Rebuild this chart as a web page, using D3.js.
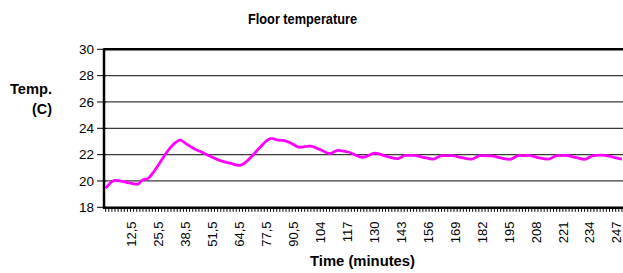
<!DOCTYPE html>
<meta charset="utf-8">
<html>
<head>
  <script src="https://d3js.org/d3.v7.min.js"></script>
  <style>
    body { margin: 0; background: #fff; }
    svg { display: block; }
  </style>
</head>
<body>
  <svg></svg>
  <script type="text/javascript">
    // readings (minutes, degrees C)
    var times = [0, 4.5, 8.5, 11.5, 15.5, 17.5, 20.5, 22.5, 26, 31, 33.5, 36, 39, 42, 45.5, 50.5, 55, 60, 64.5, 67, 70.5, 74.5, 78.5, 80,
      83, 85.5, 89, 93.5, 98.5, 103.5, 108, 112, 117, 124, 130, 135.5, 141, 144.5, 148.5, 153, 158, 162, 167.5, 171, 176.5, 180.5,
      186, 190, 195, 199, 204, 208, 213.5, 217.5, 221.5, 226.5, 231, 235, 239, 245, 249]
    var temps = [19.45, 20.05, 19.95, 19.85, 19.75, 20.05, 20.2, 20.55, 21.35, 22.5, 22.9, 23.1, 22.8, 22.5, 22.25, 21.87, 21.56, 21.35, 21.18, 21.35, 21.87, 22.56, 23.15, 23.23,
      23.1, 23.08, 22.9, 22.56, 22.64, 22.38, 22.07, 22.33, 22.2, 21.8, 22.12, 21.87, 21.7, 21.95, 21.95, 21.8, 21.66, 21.92, 21.92, 21.8, 21.66, 21.92,
      21.9, 21.77, 21.64, 21.92, 21.95, 21.8, 21.66, 21.92, 21.95, 21.8, 21.64, 21.92, 21.97, 21.8, 21.66]

    var tickTimes = [12.5, 25.5, 38.5, 51.5, 64.5, 77.5, 90.5, 103.5, 116.5, 129.5, 142.5, 155.5, 168.5, 181.5, 194.5, 207.5, 220.5, 233.5, 246.5]
    var tickLabels = ['12,5', '25,5', '38,5', '51,5', '64,5', '77,5', '90,5', '104', '117', '130', '143', '156', '169', '182', '195', '208', '221', '234', '247']
    var yTicks = [18, 20, 22, 24, 26, 28, 30]

    const width = 623, height = 273
    const plotLeft = 104, plotRight = 624, plotTop = 49.3, plotBottom = 207.3
    const narrow = "'Liberation Sans Narrow', 'Arial Narrow', 'Liberation Sans', sans-serif"
    const plain = "'Liberation Sans', Arial, sans-serif"

    const svg = d3.select('svg').attr('width', width).attr('height', height)

    const x = d3.scaleLinear().domain([-0.8, 250]).range([plotLeft, plotRight])
    const y = d3.scaleLinear().domain([18, 30]).range([plotBottom, plotTop])

    // grid lines
    svg.append('g').selectAll('line')
      .data(yTicks.filter(v => v > 18 && v < 30))
      .enter().append('line')
      .attr('x1', plotLeft).attr('x2', plotRight)
      .attr('y1', d => y(d)).attr('y2', d => y(d))
      .attr('stroke', '#3a3a3a').attr('stroke-width', 1.3)

    // top border
    svg.append('line')
      .attr('x1', plotLeft).attr('x2', plotRight)
      .attr('y1', y(30)).attr('y2', y(30))
      .attr('stroke', '#000').attr('stroke-width', 2.5)

    // y axis
    const yAxis = svg.append('g')
    yAxis.append('line')
      .attr('x1', plotLeft).attr('x2', plotLeft)
      .attr('y1', y(30) - 1).attr('y2', y(18) + 1)
      .attr('stroke', '#000').attr('stroke-width', 2.5)
    yAxis.selectAll('line.tk').data(yTicks).enter().append('line')
      .attr('class', 'tk')
      .attr('x1', plotLeft - 7).attr('x2', plotLeft + 2)
      .attr('y1', d => y(d)).attr('y2', d => y(d))
      .attr('stroke', '#000').attr('stroke-width', 1)
    yAxis.selectAll('text').data(yTicks).enter().append('text')
      .attr('x', plotLeft - 10).attr('y', d => y(d))
      .attr('dy', '0.36em')
      .attr('text-anchor', 'end')
      .attr('font-family', plain).attr('font-size', 13.5)
      .text(d => d)

    // x axis, dense category ticks
    const xAxis = svg.append('g')
    xAxis.selectAll('line.tk').data(d3.range(0, 250, 1.5)).enter().append('line')
      .attr('class', 'tk')
      .attr('x1', d => x(d)).attr('x2', d => x(d))
      .attr('y1', plotBottom).attr('y2', plotBottom + 4.5)
      .attr('stroke', '#000').attr('stroke-width', 1)
    xAxis.append('line')
      .attr('x1', plotLeft - 1).attr('x2', plotRight)
      .attr('y1', plotBottom + 0.5).attr('y2', plotBottom + 0.5)
      .attr('stroke', '#000').attr('stroke-width', 2.5)
    xAxis.selectAll('text').data(tickTimes).enter().append('text')
      .attr('transform', d => 'translate(' + x(d) + ',' + 221.5 + ') rotate(-90)')
      .attr('dy', '0.36em')
      .attr('text-anchor', 'end')
      .attr('font-family', plain).attr('font-size', 13)
      .text((d, i) => tickLabels[i])

    // the curve
    const line = d3.line()
      .x(function (d, i) { return x(times[i]) })
      .y(function (d) { return y(d) })
      .curve(d3.curveMonotoneX)
    svg.append('path')
      .datum(temps)
      .attr('d', line)
      .attr('fill', 'none')
      .attr('stroke', '#ff00ff')
      .attr('stroke-width', 2.8)

    // titles (squeezed to look like a narrow face)
    function label(txt, xx, yy, anchor, len) {
      svg.append('text')
        .attr('x', xx).attr('y', yy)
        .attr('text-anchor', anchor)
        .attr('font-family', narrow).attr('font-weight', 'bold').attr('font-size', 14)
        .attr('textLength', len).attr('lengthAdjust', 'spacingAndGlyphs')
        .text(txt)
    }
    label('Floor temperature', 302.5, 23.5, 'middle', 109)
    label('Temp.', 52, 94, 'end', 42)
    label('(C)', 52, 114, 'end', 20)
    label('Time (minutes)', 362.5, 266, 'middle', 105)
  </script>
</body>
</html>
